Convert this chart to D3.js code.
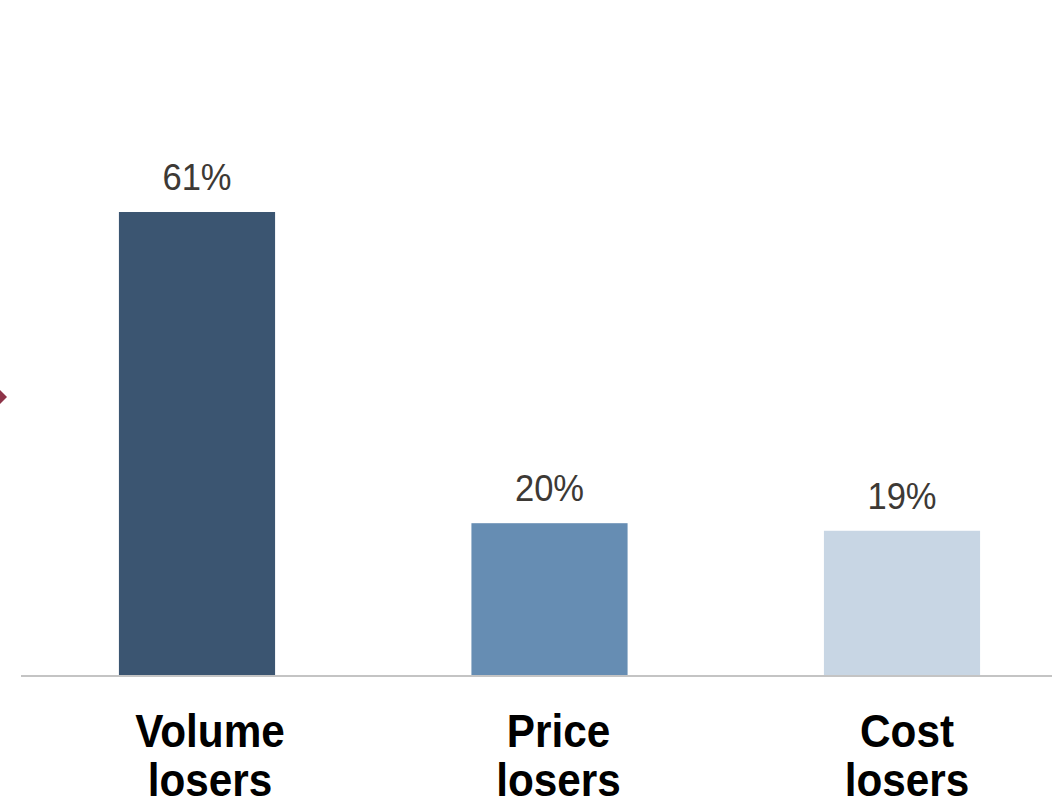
<!DOCTYPE html>
<html>
<head>
<meta charset="utf-8">
<script src="https://cdn.jsdelivr.net/npm/d3@7"></script>
<style>
  html, body { margin: 0; padding: 0; background: #ffffff; }
  svg { display: block; }
</style>
</head>
<body>
<script>
// Share of losers by driver
const categories = ["Volume losers", "Price losers", "Cost losers"];
const values = [61, 20, 19];
const valueLabels = ["61%", "20%", "19%"];
const barColors = ["#3b5571", "#668db3", "#c8d6e4"];

const W = 1052, H = 800;
const baseY = 675;

const svg = d3.select("body").append("svg")
  .attr("width", W)
  .attr("height", H);

const x = d3.scaleBand()
  .domain(categories)
  .range([20.75, 1078.25])
  .paddingInner(0.557)
  .paddingOuter(0.2785);

// Category captions sit on their own, slightly right-shifted, positions
const xLabel = d3.scalePoint()
  .domain(categories)
  .range([210, 907]);

const y = d3.scaleLinear()
  .domain([0, 100])
  .range([baseY, baseY - 759]);

// Connector marker on the left edge
svg.append("path")
  .attr("d", "M-9,397 L-1,389 L7,397 L-1,405 Z")
  .attr("fill", "#8e3348");

// Bars
svg.selectAll("rect.bar")
  .data(categories)
  .join("rect")
  .attr("class", "bar")
  .attr("x", d => x(d))
  .attr("width", x.bandwidth())
  .attr("y", (d, i) => y(values[i]))
  .attr("height", (d, i) => y(0) - y(values[i]))
  .attr("fill", (d, i) => barColors[i]);

// Baseline
svg.append("line")
  .attr("x1", 21).attr("x2", W)
  .attr("y1", baseY + 1).attr("y2", baseY + 1)
  .attr("stroke", "#c4c4c4")
  .attr("stroke-width", 2);

// Value labels
svg.selectAll("text.value")
  .data(categories)
  .join("text")
  .attr("class", "value")
  .attr("text-anchor", "middle")
  .attr("transform", (d, i) =>
    `translate(${x(d) + x.bandwidth() / 2},${y(values[i]) - 22}) scale(0.96,1)`)
  .attr("font-family", "'Liberation Sans', Arial, sans-serif")
  .attr("font-size", 36)
  .attr("fill", "#3d3935")
  .text((d, i) => valueLabels[i]);

// Category labels (two lines)
const cat = svg.selectAll("text.cat")
  .data(categories)
  .join("text")
  .attr("class", "cat")
  .attr("text-anchor", "middle")
  .attr("transform", d => `translate(${xLabel(d)},747) scale(0.9,1)`)
  .attr("font-family", "'Liberation Sans', Arial, sans-serif")
  .attr("font-weight", "bold")
  .attr("font-size", 47)
  .attr("fill", "#000000");

cat.each(function(d) {
  const parts = d.split(" ");
  const t = d3.select(this);
  parts.forEach((p, k) => {
    t.append("tspan")
      .attr("x", 0)
      .attr("y", k * 49)
      .text(p);
  });
});
</script>
</body>
</html>
